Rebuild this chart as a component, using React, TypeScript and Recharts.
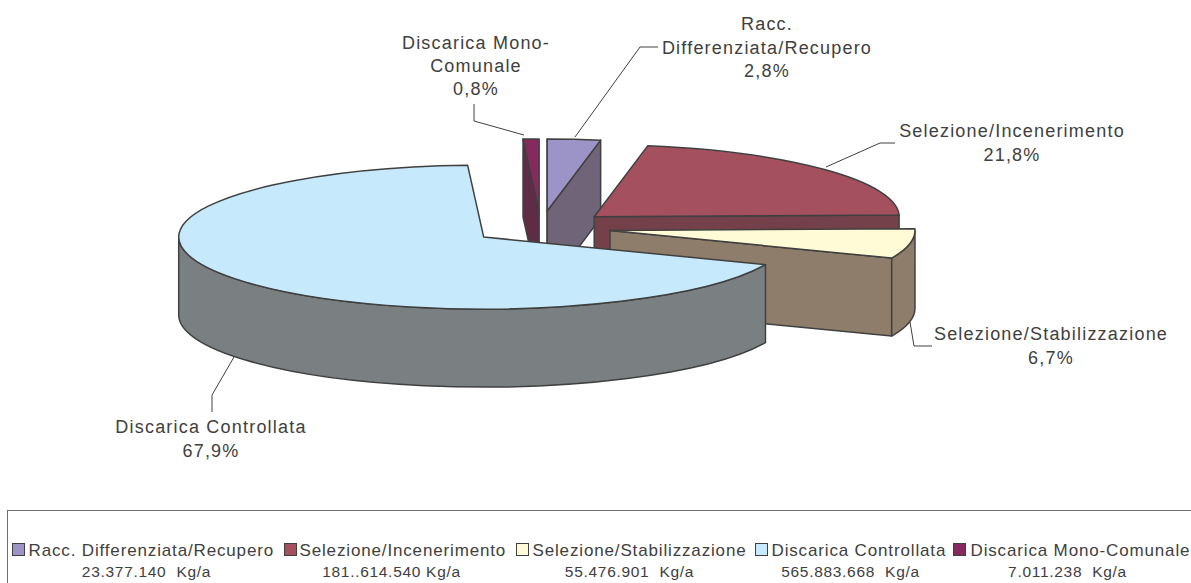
import React from "react";
import { PieChart, Pie, Legend } from "recharts";

const categories = [
  "Racc. Differenziata/Recupero",
  "Selezione/Incenerimento",
  "Selezione/Stabilizzazione",
  "Discarica Controllata",
  "Discarica Mono-Comunale",
];
const tonnage = [23377140, 181614540, 55476901, 565883668, 7011238];
const tonnageLabels = ["23.377.140  Kg/a", "181..614.540 Kg/a", "55.476.901  Kg/a", "565.883.668  Kg/a", "7.011.238  Kg/a"];
const labelLines = [
  ["Racc.", "Differenziata/Recupero", "2,8%"],
  ["Selezione/Incenerimento", "21,8%"],
  ["Selezione/Stabilizzazione", "6,7%"],
  ["Discarica Controllata", "67,9%"],
  ["Discarica Mono-", "Comunale", "0,8%"],
];
const topColors = ["#9C94C6", "#A5505E", "#FFFBD6", "#C6E9FB", "#862A5E"];
const wallColors = ["#6F6478", "#74414A", "#8E7D6B", "#7A8082", "#5F2C45"];

// Painter's order: the thin back slice goes first so the big front slice covers its wall.
const drawOrder = [4, 0, 1, 2, 3];

// layout of the labels (chart pixels)
const labelCenters = [
  { x: 767, y: [24, 48, 71] },
  { x: 1012, y: [131, 155] },
  { x: 1051, y: [334, 358] },
  { x: 211, y: [427, 451] },
  { x: 476, y: [43, 66, 89] },
];
const leaders = [
  "M575 137L640 47L658 47",
  "M826 167L880 143L895 143",
  "M910 322L914 346L932 346",
  "M234 357L212 395L212 412",
  "M524 135L474 121L474 104",
];
const legendIconX = [12, 284, 516, 755, 953];
const legendTextX = [29, 300, 533, 772, 971];
const legendValueCenter = [147, 392, 630, 851, 1068];

const tableData = drawOrder.map((i) => ({ idx: i, name: categories[i], value: tonnage[i], fill: topColors[i], wall: wallColors[i] }));
const total = tonnage.reduce((a, b) => a + b, 0);
const firstShare = (tonnage[drawOrder[0]] / total) * 360;

const FONT = "'Liberation Sans', Arial, sans-serif";
const TILT = 0.236;
const EXPLODE = 0.23;
const DEPTH = 78;
const STROKE = "#404040";

function Slice3D(props: any) {
  const { cx, cy, outerRadius, startAngle, endAngle, fill } = props;
  const wall = props.wall ?? props.payload?.wall;
  const rx = outerRadius;
  const ry = outerRadius * TILT;
  const rad = (d: number) => (d * Math.PI) / 180;
  const t0 = rad(90 - startAngle);
  const t1 = rad(90 - endAngle);
  const mid = (t0 + t1) / 2;
  const ax = cx + EXPLODE * rx * Math.sin(mid);
  const ay = cy - EXPLODE * ry * Math.cos(mid);
  const pt = (t: number, dz = 0) => [ax + rx * Math.sin(t), ay - ry * Math.cos(t) + dz];
  const [sx, sy] = pt(t0);
  const [ex, ey] = pt(t1);
  const large = t1 - t0 > Math.PI ? 1 : 0;
  const common = { stroke: STROKE, strokeWidth: 1.5, strokeLinejoin: "round" as const };
  const walls: React.ReactNode[] = [];
  // radial walls turned towards the viewer
  if (Math.sin(t0) < 0) {
    walls.push(<path key="s" d={`M${ax} ${ay}L${sx} ${sy}L${sx} ${sy + DEPTH}L${ax} ${ay + DEPTH}Z`} fill={wall} {...common} />);
  }
  if (Math.sin(t1) > 0) {
    walls.push(<path key="e" d={`M${ax} ${ay}L${ex} ${ey}L${ex} ${ey + DEPTH}L${ax} ${ay + DEPTH}Z`} fill={wall} {...common} />);
  }
  // visible part of the outer curved wall
  const a = Math.max(t0, Math.PI / 2);
  const b = Math.min(t1, (3 * Math.PI) / 2);
  if (b > a) {
    const [p0x, p0y] = pt(a);
    const [p1x, p1y] = pt(b);
    const lg = b - a > Math.PI ? 1 : 0;
    walls.push(
      <path
        key="o"
        d={`M${p0x} ${p0y}A${rx} ${ry} 0 ${lg} 1 ${p1x} ${p1y}L${p1x} ${p1y + DEPTH}A${rx} ${ry} 0 ${lg} 0 ${p0x} ${p0y + DEPTH}Z`}
        fill={wall}
        {...common}
      />
    );
  }
  return (
    <g>
      {walls}
      <path d={`M${ax} ${ay}L${sx} ${sy}A${rx} ${ry} 0 ${large} 1 ${ex} ${ey}Z`} fill={fill} {...common} />
    </g>
  );
}

function renderLabel(props: any) {
  const i = props.idx ?? props.payload?.idx;
  const c = labelCenters[i];
  return (
    <g key={i}>
      <path d={leaders[i]} fill="none" stroke={STROKE} strokeWidth={1} />
      <text textAnchor="middle" fontFamily={FONT} fontSize={18} letterSpacing={1.2} fill="#404040">
        {labelLines[i].map((line, j) => (
          <tspan key={j} x={c.x} y={c.y[j] + 6}>
            {line}
          </tspan>
        ))}
      </text>
    </g>
  );
}

function LegendBox() {
  return (
    <div style={{ position: "relative", width: 1300, height: 120, border: "1.5px solid #707070", boxSizing: "border-box", fontFamily: FONT, fontSize: 17, letterSpacing: 0.85, color: "#404040" }}>
      {categories.map((name, i) => (
        <React.Fragment key={name}>
          <span style={{ position: "absolute", left: legendIconX[i] - 8.5, top: 31.5, width: 13, height: 13, background: topColors[i], border: "1px solid #404040", boxSizing: "border-box" }} />
          <span style={{ position: "absolute", left: legendTextX[i] - 8.5, top: 30, whiteSpace: "nowrap", lineHeight: "20px" }}>{name}</span>
          <span style={{ position: "absolute", left: legendValueCenter[i] - 8.5 - 100, width: 200, textAlign: "center", top: 52, fontSize: 15.5, letterSpacing: 0.7, whiteSpace: "pre", lineHeight: "18px" }}>{tonnageLabels[i]}</span>
        </React.Fragment>
      ))}
    </div>
  );
}

export default function App() {
  return (
    <div style={{ position: "absolute", left: 0, top: 0, width: 1191, height: 583, overflow: "hidden", background: "#fff" }}>
      <PieChart width={1191} height={583} margin={{ top: 0, right: 0, bottom: 0, left: 0 }}>
        <Legend content={<LegendBox />} wrapperStyle={{ position: "absolute", left: 7, top: 510, bottom: "auto", width: 1300, height: 120 }} />
        <Pie
          data={tableData}
          dataKey="value"
          nameKey="name"
          cx={541}
          cy={227.5}
          outerRadius={305}
          startAngle={90 + firstShare}
          endAngle={90 + firstShare - 360}
          isAnimationActive={false}
          shape={Slice3D}
          label={renderLabel}
          labelLine={false}
        />
      </PieChart>
    </div>
  );
}
